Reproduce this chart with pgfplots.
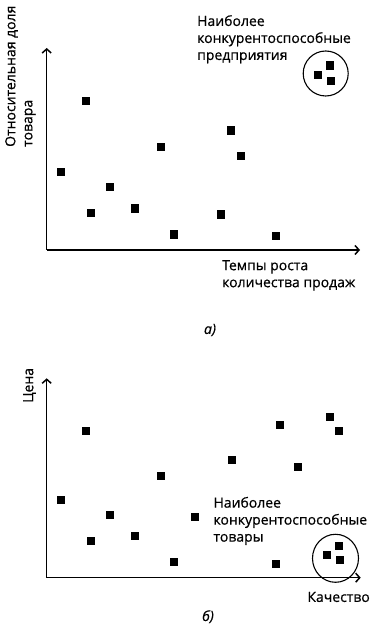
\documentclass[border=0pt]{standalone}
\usepackage{fontspec}
\setmainfont{Open Sans}[FakeBold=0.6]
\usepackage{pgfplots}
\pgfplotsset{compat=1.18}
\usetikzlibrary{arrows.meta}
\newcommand{\lbl}{\fontsize{14bp}{17bp}\selectfont}
\pgfplotsset{
  myaxis/.style={
    scale only axis, clip=false,
    axis lines=left,
    axis line style={-{Straight Barb[length=4bp,width=9bp]}, line width=1.5bp},
    xtick=\empty, ytick=\empty,
    xmin=0, ymin=0,
  },
  pts/.style={only marks, mark=square*, mark size=3.6bp, mark options={fill=black, draw=black}},
}
\begin{document}
\begin{tikzpicture}
\useasboundingbox (0,0) rectangle (379bp,630bp);
% --- top chart
\begin{axis}[myaxis, at={(46.7bp,380bp)}, anchor=south west,
  width=313.3bp, height=202bp, xmax=313.3, ymax=202]
\addplot[pts] coordinates {
 (14.3,78.3) (39.3,149) (44.3,37.3) (63.3,63) (87.6,41.7) (113.6,103)
 (127.3,15.7) (173.6,35.7) (184,119.7) (193.6,94) (229.3,14)
 (271,175) (283,184.7) (284.3,169.3)};
\draw[line width=1.1bp] (axis cs:279,176.5) circle[radius=22.5bp];
\node[anchor=north west, align=left, inner sep=0pt, font=\lbl] at (axis cs:150.3,235)
  {Наиболее\\конкурентоспособные\\предприятия};
\node[anchor=north west, align=left, inner sep=0pt, rotate=90, font=\lbl] at (axis cs:-41.7,103)
  {Относительная доля\\товара};
\node[anchor=north west, align=left, inner sep=0pt, font=\lbl] at (axis cs:175.3,-10)
  {Темпы роста\\количества продаж};
\node[font=\lbl\itshape] at (axis cs:163.3,-80) {а)};
\end{axis}
% --- bottom chart
\begin{axis}[myaxis, at={(46.7bp,52.3bp)}, anchor=south west,
  width=314bp, height=199.4bp, xmax=314, ymax=199.4]
\addplot[pts] coordinates {
 (14.3,77.7) (39.3,147.4) (44.3,37) (63.3,62.7) (87.6,41.7) (114,101.7)
 (127.3,15.7) (148.3,61) (184.6,118.4) (232.6,153) (229,14.4) (251.3,110.7)
 (282.6,160.7) (292.3,147.4)
 (280.3,23.4) (292.3,32) (293.3,17.7)};
\draw[line width=1.1bp] (axis cs:288.8,19.4) ellipse[x radius=23bp, y radius=24bp];
\node[anchor=north west, align=left, inner sep=0pt, font=\lbl] at (axis cs:166.6,81)
  {Наиболее\\конкурентоспособные\\товары};
\node[anchor=north west, inner sep=0pt, rotate=90, font=\lbl] at (axis cs:-23.7,174.7) {Цена};
\node[anchor=north east, inner sep=0pt, font=\lbl] at (axis cs:323.3,-14) {Качество};
\node[font=\lbl\itshape] at (axis cs:161.3,-39) {б)};
\end{axis}
\end{tikzpicture}
\end{document}
